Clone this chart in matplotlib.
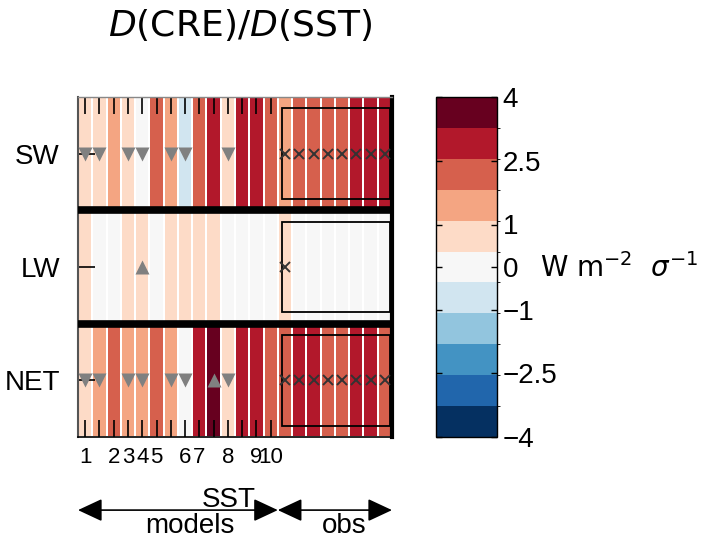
import matplotlib
matplotlib.use("Agg")
import matplotlib.pyplot as plt
import numpy as np
from matplotlib.colors import BoundaryNorm
from matplotlib.patches import Rectangle

# rows and columns: 14 model runs followed by 8 observational estimates
rows = ["SW", "LW", "NET"]
n_models = 14
n_obs = 8
model_labels = ["1", "", "2", "3", "4", "5", "", "6", "7", "", "8", "", "9", "10"]

# dCRE/dSST per column (W m-2 per sigma)
sw = [0.8, 0.7, 1.4, 0.9, 0.2, 2.2, 1.5, -0.6, 2.1, 2.9, 0.7, 3.0, 2.8, 2.3,
      1.6, 2.3, 2.2, 2.4, 2.1, 2.9, 3.1, 2.8]
lw = [0.5, 0.1, -0.1, 0.6, 0.5, 0.2, 0.6, 0.5, 0.7, 0.6, 0.1, 0.2, -0.1, 0.0,
      0.5, 0.1, 0.2, 0.0, 0.1, -0.2, 0.1, 0.2]
net = [0.9, 1.3, 2.0, 1.5, 1.4, 2.2, 1.6, 0.2, 2.9, 3.7, 0.8, 3.0, 2.9, 2.2,
       2.4, 2.8, 3.0, 2.3, 2.2, 2.9, 3.1, 2.4]

# markers, by column number
sw_down = [1, 2, 4, 5, 7, 8, 11]
lw_up = [5]
net_down = [1, 2, 4, 5, 7, 8, 11]
net_up = [10]
sw_cross = [15, 16, 17, 18, 19, 20, 21, 22]
lw_cross = [15]
net_cross = [15, 16, 17, 18, 19, 20, 21, 22]

levels = np.linspace(-4, 4, 12)
cbar_ticks = [-4, -2.5, -1, 0, 1, 2.5, 4]
cbar_labels = ["\u22124", "\u22122.5", "\u22121", "0", "1", "2.5", "4"]

plt.rcParams['font.family'] = ['Liberation Sans', 'DejaVu Sans']

W, H = 716, 541
fig = plt.figure(figsize=(W / 100, H / 100), dpi=100)
ax = fig.add_axes([78 / W, 104 / H, 314 / W, 340 / H])

ncol = n_models + n_obs
data = np.array([net, lw, sw])          # bottom row first
row_y = {"SW": 2, "LW": 1, "NET": 0}
cmap = plt.get_cmap('RdBu_r', 11)
norm = BoundaryNorm(levels, cmap.N)
xe = np.arange(ncol + 1) + 0.5
ye = np.arange(len(rows) + 1) - 0.5
mesh = ax.pcolormesh(xe, ye, data, cmap=cmap, norm=norm,
                     edgecolors='white', linewidth=1.2)

# thick separators between rows
for yb in (0.5, 1.5):
    ax.axhline(yb, color='k', lw=5.5, zorder=3)

# boxes around the observational columns
for r in rows:
    y = row_y[r]
    ax.add_patch(Rectangle((n_models + 0.8, y - 0.4), n_obs - 0.45, 0.8,
                           fill=False, ec='k', lw=1.3, zorder=4))

tri = dict(color='#808080', ms=10, mec='none', ls='none', zorder=5)
ax.plot(sw_down, [row_y["SW"]] * len(sw_down), 'v', **tri)
ax.plot(lw_up, [row_y["LW"]] * len(lw_up), '^', **tri)
ax.plot(net_down, [row_y["NET"]] * len(net_down), 'v', **tri)
ax.plot(net_up, [row_y["NET"]] * len(net_up), '^', **tri)

crs = dict(color='#333333', ms=7.5, mew=1.4, ls='none', zorder=5)
ax.plot(sw_cross, [row_y["SW"]] * len(sw_cross), 'x', **crs)
ax.plot(lw_cross, [row_y["LW"]] * len(lw_cross), 'x', **crs)
ax.plot(net_cross, [row_y["NET"]] * len(net_cross), 'x', **crs)

ax.set_xlim(0.5, ncol + 0.5)
ax.set_ylim(-0.5, len(rows) - 0.5)
ax.set_xticks(np.arange(1, n_models + 1))
ax.set_xticklabels(model_labels, fontsize=16)
ax.set_yticks([row_y[r] for r in rows])
ax.set_yticklabels(rows, fontsize=20)
ax.tick_params(axis='x', direction='in', top=True, bottom=True,
               length=12, width=1.2, pad=7)
ax.tick_params(axis='y', direction='in', length=12, width=1.2, pad=13)

ax.spines['left'].set_color('#555555')
ax.spines['left'].set_linewidth(1.5)
ax.spines['top'].set_color('#888888')
ax.spines['top'].set_linewidth(1)
ax.spines['bottom'].set_linewidth(1.2)
ax.spines['right'].set_linewidth(3)

# arrows and group labels below the axis
arr = dict(arrowstyle='<|-|>,head_length=0.75,head_width=0.35', color='k',
           lw=1.2, shrinkA=0, shrinkB=0, mutation_scale=20)
ay = -0.215
ax.annotate('', xy=(0.5, ay), xytext=(n_models + 0.5, ay),
            xycoords=('data', 'axes fraction'), arrowprops=arr)
ax.annotate('', xy=(n_models + 0.5, ay), xytext=(ncol + 0.5, ay),
            xycoords=('data', 'axes fraction'), arrowprops=arr)
ax.text(0.48, -0.206, 'SST', transform=ax.transAxes, ha='center',
        va='baseline', fontsize=20)
ax.text(0.357, -0.224, 'models', transform=ax.transAxes, ha='center',
        va='top', fontsize=20)
ax.text(0.847, -0.224, 'obs', transform=ax.transAxes, ha='center',
        va='top', fontsize=20)

# colour bar
cax = fig.add_axes([436 / W, 104 / H, 61 / W, 340 / H])
cb = fig.colorbar(mesh, cax=cax, ticks=cbar_ticks)
cb.set_ticklabels(cbar_labels)
cb.ax.tick_params(direction='in', length=4, width=1, left=True, right=True,
                  labelsize=20, pad=4)
cb.outline.set_linewidth(1)

fig.text(540 / W, 1 - 268 / H, r"W m$^{-2}$  $\sigma^{-1}$", fontsize=20,
         va='center', family='DejaVu Sans')
fig.text(240 / W, 1 - 25 / H, r"$D$(CRE)/$D$(SST)", fontsize=26,
         ha='center', va='center', family='DejaVu Sans')

fig.savefig('out.png', dpi=100)
